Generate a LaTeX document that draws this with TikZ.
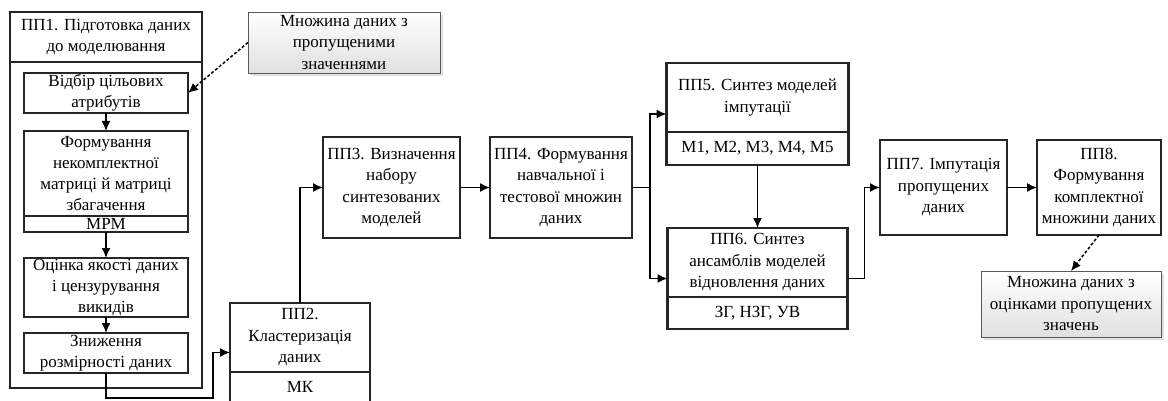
\documentclass[tikz,border=0pt]{standalone}
\usepackage{fontspec}
\setmainfont{Liberation Serif}
\usetikzlibrary{positioning, arrows.meta, fit, shadows}
\tikzset{
block/.style={
  draw=black!85, 
  rectangle, 
  line width=2.7pt, 
  inner sep=0pt, outer sep=0pt, align=center,
  font=\fontsize{17}{21.5}\selectfont
  }, 
substep/.style={
  draw=black!85, 
  rectangle, 
  line width=1.1pt, 
  minimum width=164pt,
  inner sep=0pt, outer sep=0pt, align=center,
  font=\fontsize{17}{21}\selectfont
  }, 
dataset/.style={
  draw=black!65, 
  rectangle, 
  line width=0.9pt, 
  top color=white, bottom color=black!12,
  drop shadow={shadow xshift=3pt, shadow yshift=-3pt, fill=black!12, opacity=1},
  inner sep=0pt, outer sep=0pt, align=center,
  font=\fontsize{17}{21.5}\selectfont
  }, 
whole/.style={inner sep=0pt, outer sep=0pt},
line/.style={->, >={Latex[length=10pt,width=9pt]}, line width=1.5pt},
dashline/.style={line, dash pattern=on 3pt off 2pt}
}
\begin{document}
\begin{tikzpicture}[x=1pt, y=-1pt]
\useasboundingbox (0,0) rectangle (1168,401);

% ПП1
\node[block, minimum width=192pt, minimum height=50pt]	(pp1)	at (106,37)	{ПП1. Підготовка даних \\ до моделювання};
\node[block, minimum width=192pt, minimum height=326pt]	(pp1body)	[below=0pt of pp1]	{};
\node[substep, minimum height=40pt]	(s1)	[below=11pt of pp1.south]	{Відбір цільових \\ атрибутів};
\node[substep, minimum height=85pt]	(s2)	[below=18pt of s1]	{Формування \\ некомплектної \\ матриці й матриці \\ збагачення};
\node[substep, minimum height=16pt]	(s2m)	[below=0pt of s2]	{МРМ};
\node[substep, minimum height=59pt]	(s3)	[below=26pt of s2m]	{Оцінка якості даних \\ і цензурування \\ викидів};
\node[substep, minimum height=40pt]	(s4)	[below=16pt of s3]	{Зниження \\ розмірності даних};

\node[dataset, minimum width=192pt, minimum height=61pt]	(in)	at (344,42.5)	{Множина даних з \\ пропущеними \\ значеннями};

% ПП2 .. ПП8
\node[block, minimum width=140pt, minimum height=69pt]	(pp2)	at (300,337.5)	{ПП2. \\ Кластеризація \\ даних};
\node[block, minimum width=140pt, minimum height=30pt]	(pp2m)	[below=0pt of pp2]	{МК};
\node[whole, fit=(pp2)(pp2m)]	(pp2box)	{};

\node[block, minimum width=137pt, minimum height=101pt]	(pp3)	at (391.5,187.5)	{ПП3. Визначення \\ набору \\ синтезованих \\ моделей};
\node[block, minimum width=142pt, minimum height=101pt]	(pp4)	[right=30pt of pp3]	{ПП4. Формування \\ навчальної і \\ тестової множин \\ даних};

\node[block, minimum width=182pt, minimum height=69pt]	(pp5)	at (757.5,97.5)	{ПП5. Синтез моделей \\ імпутації};
\node[block, minimum width=182pt, minimum height=33pt]	(pp5m)	[below=0pt of pp5]	{М1, М2, М3, М4, М5};
\node[whole, fit=(pp5)(pp5m)]	(pp5box)	{};

\node[block, minimum width=180pt, minimum height=69pt]	(pp6)	[below=63pt of pp5m]	{ПП6. Синтез \\ ансамблів моделей \\ відновлення даних};
\node[block, minimum width=180pt, minimum height=32pt]	(pp6m)	[below=0pt of pp6]	{ЗГ, НЗГ, УВ};
\node[whole, fit=(pp6)(pp6m)]	(pp6box)	{};

\node[block, minimum width=127pt, minimum height=95pt]	(pp7)	at (943.5,187.5)	{ПП7. Імпутація \\ пропущених \\ даних};
\node[block, minimum width=124pt, minimum height=95pt]	(pp8)	[right=30pt of pp7]	{ПП8. \\ Формування \\ комплектної \\ множини даних};

\node[dataset, minimum width=180pt, minimum height=66pt]	(out)	at (1071,304)	{Множина даних з \\ оцінками пропущених \\ значень};

\coordinate	(bendA)	at (213,398);
\coordinate	(fork)	at (650,187.5);

\draw[dashline]	(in.west)	--	(s1.east);
\draw[line]	(s1.south)	--	(s2.north);
\draw[line]	(s2m.south)	--	(s3.north);
\draw[line]	(s3.south)	--	(s4.north);
\draw[line]	(s4.south)	|-	(bendA) |- (pp2box.west);
\draw[line]	(pp2.north)	|-	(pp3.west);
\draw[line]	(pp3.east)	--	(pp4.west);
\draw[line]	(pp4.east)	--	(fork) |- (pp5box.west);
\draw[line]	(fork)	|-	(pp6box.west);
\draw[line]	(pp5m.south)	--	(pp6.north);
\draw[line]	(pp6box.east)	-- ++(17,0) |- (pp7.west);
\draw[line]	(pp7.east)	--	(pp8.west);
\draw[dashline]	(pp8.south)	--	(out.north);
\end{tikzpicture}
\end{document}
